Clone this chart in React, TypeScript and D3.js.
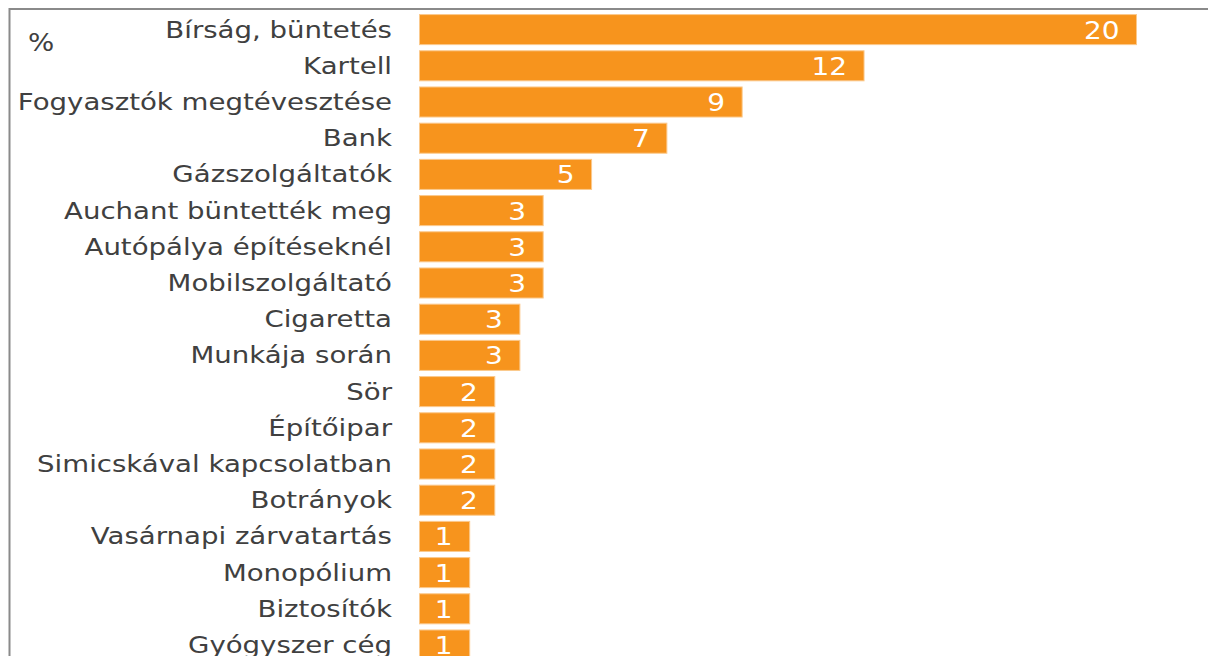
import React from "react";
import * as d3 from "d3";

const categories = [
  "Bírság, büntetés",
  "Kartell",
  "Fogyasztók megtévesztése",
  "Bank",
  "Gázszolgáltatók",
  "Auchant büntették meg",
  "Autópálya építéseknél",
  "Mobilszolgáltató",
  "Cigaretta",
  "Munkája során",
  "Sör",
  "Építőipar",
  "Simicskával kapcsolatban",
  "Botrányok",
  "Vasárnapi zárvatartás",
  "Monopólium",
  "Biztosítók",
  "Gyógyszer cég",
];
const values = [20.0, 12.4, 9.0, 6.9, 4.8, 3.45, 3.45, 3.45, 2.8, 2.8, 2.1, 2.1, 2.1, 2.1, 1.4, 1.4, 1.4, 1.4];
const unitLabel = "%";

const W = 1208;
const H = 656;

export default function App() {
  const x = d3.scaleLinear().domain([0, 22]).range([419.5, 419.5 + 22 * 35.85]);
  const y = d3
    .scaleBand<string>()
    .domain(categories)
    .range([11.5, 11.5 + categories.length * 36.2])
    .paddingInner(0.17)
    .paddingOuter(0.085);
  const font = "'DejaVu Sans', Verdana, sans-serif";
  return (
    <svg
      width={W}
      height={H}
      style={{ position: "absolute", left: 0, top: 0, background: "#fff" }}
    >
      <rect x={9.5} y={9} width={1210} height={700} fill="none" stroke="#8a8a8a" strokeWidth={2} />
      <text
        transform={`translate(28,51) scale(1.15,1)`}
        fontFamily={font}
        fontSize={24}
        fill="#404040"
      >
        {unitLabel}
      </text>
      {categories.map((c, i) => {
        const y0 = y(c)!;
        const bh = y.bandwidth();
        const cy = y0 + bh / 2;
        const x1 = x(values[i]);
        return (
          <g key={c}>
            <rect
              x={x(0)}
              y={y0}
              width={x1 - x(0)}
              height={bh}
              fill="#F7941D"
              stroke="#FBC98C"
              strokeWidth={1}
            />
            <text
              transform={`translate(392,${cy + 8}) scale(1.2,1)`}
              textAnchor="end"
              fontFamily={font}
              fontSize={23}
              fill="#404040"
            >
              {c}
            </text>
            <text
              transform={`translate(${x1 - 17},${cy + 9}) scale(1.12,1)`}
              textAnchor="end"
              fontFamily={font}
              fontSize={25}
              fill="#ffffff"
            >
              {Math.round(values[i])}
            </text>
          </g>
        );
      })}
    </svg>
  );
}
